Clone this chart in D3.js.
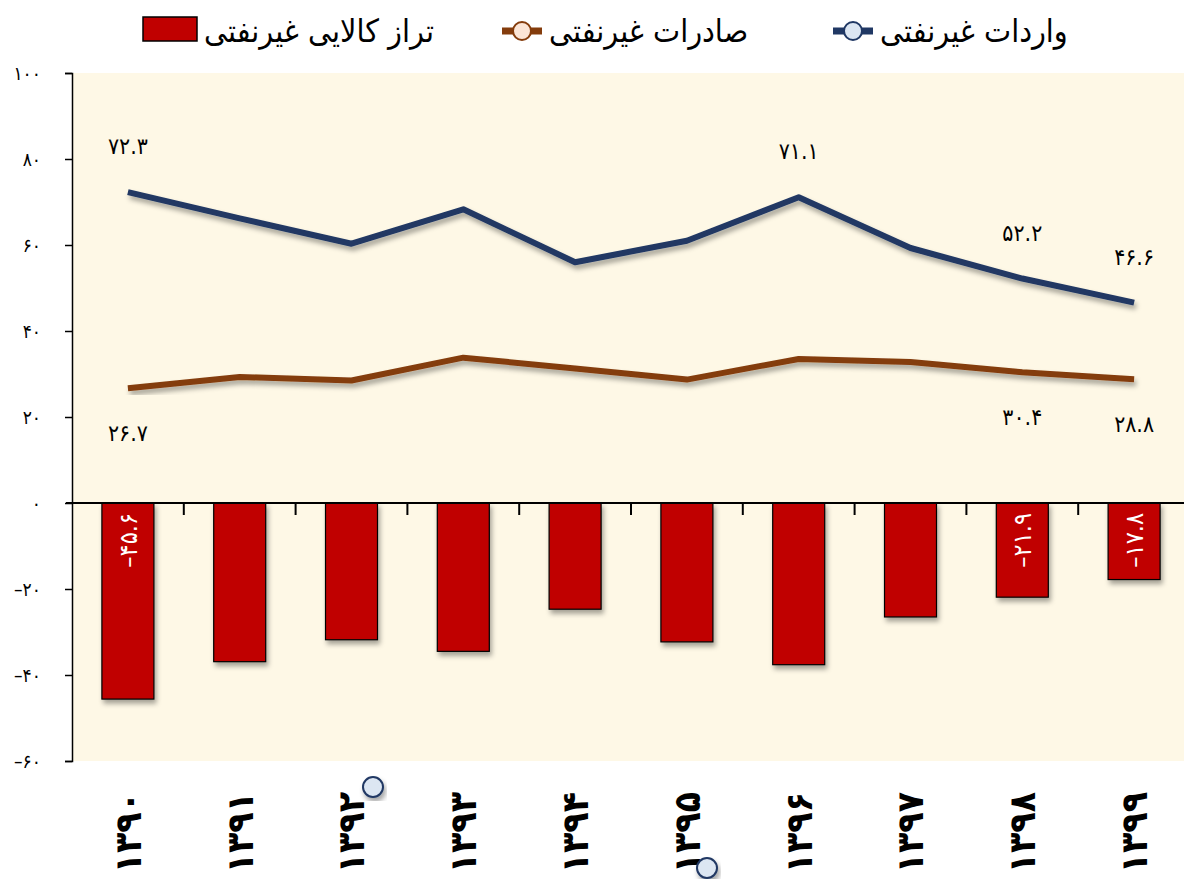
<!DOCTYPE html>
<meta charset="utf-8">
<style>
body { margin: 0; background: #fff; }
text { font-family: "DejaVu Sans Condensed", "DejaVu Sans", sans-serif; }
.axis path, .axis line { stroke: #000; }
</style>
<svg width="1184" height="879"></svg>
<script src="https://cdn.jsdelivr.net/npm/d3@7"></script>
<script>

var years = ["1390", "1391", "1392", "1393", "1394", "1395", "1396", "1397", "1398", "1399"];
var imports = [72.3, 66.2, 60.3, 68.3, 56.0, 61.0, 71.1, 59.3, 52.2, 46.6];
var exports = [26.7, 29.3, 28.5, 33.8, 31.3, 28.7, 33.5, 32.8, 30.4, 28.8];
var balance = [-45.6, -36.9, -31.8, -34.5, -24.7, -32.3, -37.6, -26.5, -21.9, -17.8];
var yTicks = [100, 80, 60, 40, 20, 0, -20, -40, -60];

// only some points carry a value label
var importLabels = [0, 6, 8, 9];
var exportLabels = [0, 8, 9];
var balanceLabels = [0, 8, 9];

var seriesNames = ["واردات غیرنفتی", "صادرات غیرنفتی", "تراز کالایی غیرنفتی"];

function fa(v) {
  return String(v).replace(/\d/g, function (d) { return "۰۱۲۳۴۵۶۷۸۹"[d]; });
}
function signed(v, digits) {
  var s = fa(Math.abs(v).toFixed(digits));
  return v < 0 ? "–" + s : s;
}

var svg = d3.select("svg");

var defs = svg.append("defs");
var f = defs.append("filter").attr("id", "shadow")
    .attr("x", "-20%").attr("y", "-20%").attr("width", "140%").attr("height", "140%");
f.append("feDropShadow")
    .attr("dx", 2).attr("dy", 4).attr("stdDeviation", 2.5)
    .attr("flood-color", "#000").attr("flood-opacity", 0.35);

var x = d3.scaleBand().domain(years).range([72, 1190])
    .paddingInner(0.535).paddingOuter(0.2675);
var y = d3.scaleLinear().domain([-60, 100]).range([761, 73]);

function cx(i) { return x(years[i]) + x.bandwidth() / 2; }

// plot background
svg.append("rect")
    .attr("x", 72).attr("y", y(100))
    .attr("width", 1184 - 72).attr("height", y(-60) - y(100))
    .attr("fill", "#fef8e6");

// bars
svg.append("g").selectAll("rect")
  .data(balance)
  .enter().append("rect")
    .attr("x", function (d, i) { return x(years[i]); })
    .attr("y", y(0))
    .attr("width", x.bandwidth())
    .attr("height", function (d) { return y(d) - y(0); })
    .attr("fill", "#c00000")
    .attr("stroke", "#000")
    .attr("stroke-width", 1.2)
    .attr("filter", "url(#shadow)");

// y axis
var yAxis = svg.append("g")
    .attr("class", "axis")
    .attr("transform", "translate(72,0)")
    .call(d3.axisLeft(y).tickValues(yTicks).tickSize(7).tickPadding(24)
      .tickFormat(function (d) { return signed(d, 0); }));
yAxis.select(".domain").attr("stroke-width", 1.5);
yAxis.selectAll(".tick line").attr("stroke-width", 1.5);
yAxis.selectAll("text").attr("font-size", 19).attr("fill", "#000");

// zero line with category ticks
svg.append("line")
    .attr("x1", 66).attr("x2", 1184)
    .attr("y1", y(0)).attr("y2", y(0))
    .attr("stroke", "#000").attr("stroke-width", 2);

svg.append("g").selectAll("line")
  .data(years.slice(1))
  .enter().append("line")
    .attr("x1", function (d) { return x(d) - x.step() * x.paddingInner() / 2; })
    .attr("x2", function (d) { return x(d) - x.step() * x.paddingInner() / 2; })
    .attr("y1", y(0)).attr("y2", y(0) + 12)
    .attr("stroke", "#000").attr("stroke-width", 2);

// lines
var line = d3.line()
    .x(function (d, i) { return cx(i); })
    .y(function (d) { return y(d); });

svg.append("path")
    .datum(exports)
    .attr("d", line)
    .attr("fill", "none")
    .attr("stroke", "#843c0c")
    .attr("stroke-width", 6)
    .attr("stroke-linejoin", "round")
    .attr("filter", "url(#shadow)");

svg.append("path")
    .datum(imports)
    .attr("d", line)
    .attr("fill", "none")
    .attr("stroke", "#203864")
    .attr("stroke-width", 6)
    .attr("stroke-linejoin", "round")
    .attr("filter", "url(#shadow)");

// value labels
svg.append("g").selectAll("text")
  .data(importLabels)
  .enter().append("text")
    .attr("x", function (i) { return cx(i); })
    .attr("y", function (i) { return y(imports[i]) - 46; })
    .attr("dy", "0.35em")
    .attr("text-anchor", "middle")
    .attr("font-size", 23)
    .text(function (i) { return signed(imports[i], 1); });

svg.append("g").selectAll("text")
  .data(exportLabels)
  .enter().append("text")
    .attr("x", function (i) { return cx(i); })
    .attr("y", function (i) { return y(exports[i]) + 45; })
    .attr("dy", "0.35em")
    .attr("text-anchor", "middle")
    .attr("font-size", 23)
    .text(function (i) { return signed(exports[i], 1); });

svg.append("g").selectAll("text")
  .data(balanceLabels)
  .enter().append("text")
    .attr("transform", function (i) { return "translate(" + cx(i) + "," + (y(0) + 10) + ") rotate(-90)"; })
    .attr("dy", "0.35em")
    .attr("text-anchor", "end")
    .attr("font-size", 25)
    .attr("fill", "#fff")
    .text(function (i) { return signed(balance[i], 1); });

// category labels
svg.append("g").selectAll("text")
  .data(years)
  .enter().append("text")
    .attr("transform", function (d) { return "translate(" + (x(d) + x.bandwidth() / 2) + ",792) rotate(-90)"; })
    .attr("dy", "0.35em")
    .attr("text-anchor", "end")
    .attr("font-size", 37)
    .attr("font-weight", "bold")
    .text(function (d) { return fa(d); });

// stray marker circles seen in the picture
svg.append("g").selectAll("circle")
  .data([[373, 787], [707, 868]])
  .enter().append("circle")
    .attr("cx", function (d) { return d[0]; })
    .attr("cy", function (d) { return d[1]; })
    .attr("r", 10)
    .attr("fill", "#dce6f2")
    .attr("stroke", "#203864")
    .attr("stroke-width", 2)
    .attr("filter", "url(#shadow)");

// legend
var legend = svg.append("g").attr("font-size", 32);

legend.append("line").attr("x1", 833).attr("x2", 873).attr("y1", 31).attr("y2", 31)
    .attr("stroke", "#203864").attr("stroke-width", 7);
legend.append("circle").attr("cx", 853).attr("cy", 31).attr("r", 9)
    .attr("fill", "#dce6f2").attr("stroke", "#203864").attr("stroke-width", 2);
legend.append("text").attr("x", 880).attr("y", 31).attr("dy", "0.35em")
    .text(seriesNames[0]);

legend.append("line").attr("x1", 502).attr("x2", 542).attr("y1", 31).attr("y2", 31)
    .attr("stroke", "#843c0c").attr("stroke-width", 7);
legend.append("circle").attr("cx", 522).attr("cy", 31).attr("r", 9)
    .attr("fill", "#fbe5d6").attr("stroke", "#843c0c").attr("stroke-width", 2);
legend.append("text").attr("x", 549).attr("y", 31).attr("dy", "0.35em")
    .text(seriesNames[1]);

legend.append("rect").attr("x", 143).attr("y", 17).attr("width", 54).attr("height", 24)
    .attr("fill", "#c00000").attr("stroke", "#000").attr("stroke-width", 1.5);
legend.append("text").attr("x", 204).attr("y", 31).attr("dy", "0.35em")
    .text(seriesNames[2]);

</script>
